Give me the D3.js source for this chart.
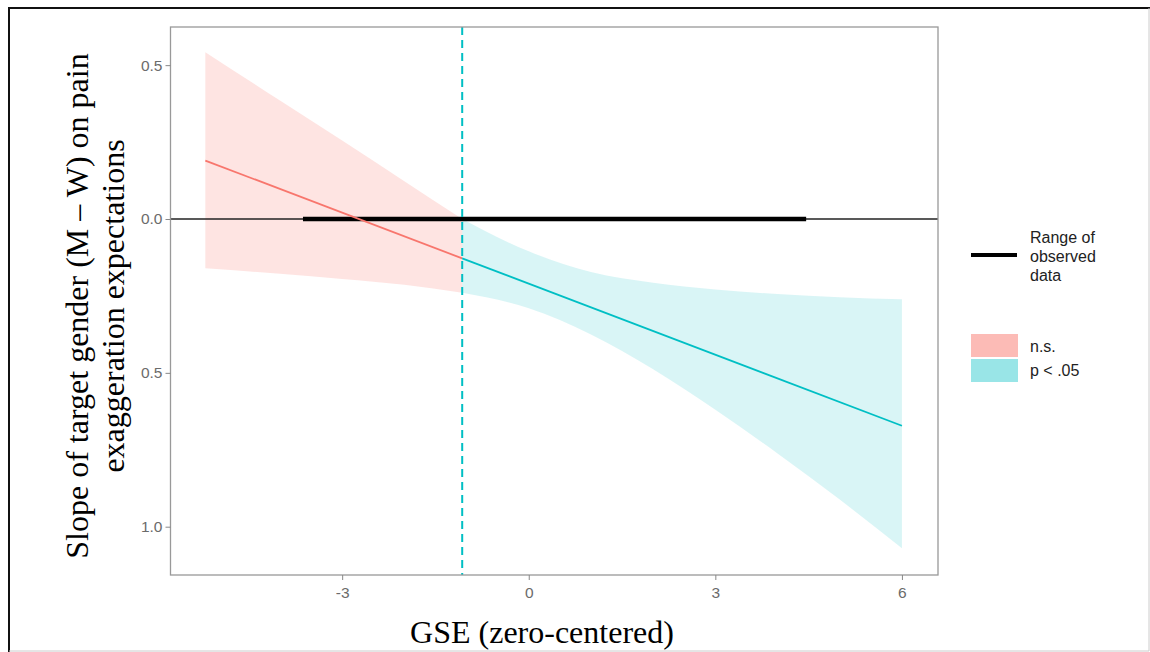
<!DOCTYPE html>
<html>
<head>
<meta charset="utf-8">
<script src="https://cdn.jsdelivr.net/npm/d3@7"></script>
<style>
  body { margin: 0; background: #fff; }
  svg { display: block; }
</style>
</head>
<body>
<script>
// values
const xTicks = [-3, 0, 3, 6];
const xTickLabels = ["-3", "0", "3", "6"];
const yTicks = [0.5, 0, -0.5, -1];
const yTickLabels = ["0.5", "0.0", "0.5", "1.0"];

const bandX = [-5.2, -4, -3, -2, -1.07, 0, 1, 2, 3, 4, 5, 6];
const bandUpper = [0.542, 0.385, 0.255, 0.123, 0.0, -0.105, -0.172, -0.207, -0.229, -0.244, -0.254, -0.261];
const bandLower = [-0.160, -0.178, -0.195, -0.214, -0.240, -0.290, -0.375, -0.488, -0.620, -0.762, -0.912, -1.070];

const nsLineX = [-5.2, -1.07];
const nsLineY = [0.19, -0.128];
const sigLineX = [-1.07, 6];
const sigLineY = [-0.128, -0.672];

const jnPoint = -1.07;
const observedRange = [-3.63, 4.46];

const legendRangeLabel = ["Range of", "observed", "data"];
const legendFillLabels = ["n.s.", "p < .05"];

const width = 1150, height = 652;
const panel = {left: 170.5, right: 938, top: 27, bottom: 575};
const red = "#F8766D", teal = "#00BFC4";

const svg = d3.select("body").append("svg")
    .attr("width", width)
    .attr("height", height);

const x = d3.scaleLinear()
    .domain([-5.76, 6.58])
    .range([panel.left, panel.right]);

const y = d3.scaleLinear()
    .domain([-1.157, 0.624])
    .range([panel.bottom, panel.top]);

const band = bandX.map((d, i) => ({x: d, lo: bandLower[i], hi: bandUpper[i]}));
const split = bandX.indexOf(jnPoint);

const area = d3.area()
    .curve(d3.curveMonotoneX)
    .x(d => x(d.x))
    .y0(d => y(d.lo))
    .y1(d => y(d.hi));

svg.append("path")
    .datum(band.slice(0, split + 1))
    .attr("fill", red)
    .attr("fill-opacity", 0.2)
    .attr("d", area);

svg.append("path")
    .datum(band.slice(split))
    .attr("fill", teal)
    .attr("fill-opacity", 0.15)
    .attr("d", area);

// zero line and range of observed data
svg.append("line")
    .attr("x1", panel.left).attr("x2", panel.right)
    .attr("y1", y(0)).attr("y2", y(0))
    .attr("stroke", "#222")
    .attr("stroke-width", 1.3);

svg.append("line")
    .attr("x1", x(observedRange[0])).attr("x2", x(observedRange[1]))
    .attr("y1", y(0)).attr("y2", y(0))
    .attr("stroke", "#000")
    .attr("stroke-width", 4.5);

const line = d3.line()
    .x(d => x(d[0]))
    .y(d => y(d[1]));

svg.append("path")
    .datum(nsLineX.map((d, i) => [d, nsLineY[i]]))
    .attr("fill", "none")
    .attr("stroke", red)
    .attr("stroke-width", 1.8)
    .attr("d", line);

svg.append("path")
    .datum(sigLineX.map((d, i) => [d, sigLineY[i]]))
    .attr("fill", "none")
    .attr("stroke", teal)
    .attr("stroke-width", 1.8)
    .attr("d", line);

svg.append("line")
    .attr("x1", x(jnPoint)).attr("x2", x(jnPoint))
    .attr("y1", panel.top).attr("y2", panel.bottom)
    .attr("stroke", teal)
    .attr("stroke-width", 2)
    .attr("stroke-dasharray", "8,5");

// panel border
svg.append("rect")
    .attr("x", panel.left).attr("y", panel.top)
    .attr("width", panel.right - panel.left)
    .attr("height", panel.bottom - panel.top)
    .attr("fill", "none")
    .attr("stroke", "#999")
    .attr("stroke-width", 1.3);

// axes
const xAxis = g => g
    .attr("transform", `translate(0,${panel.bottom})`)
    .call(d3.axisBottom(x).tickValues(xTicks).tickSize(5).tickPadding(7)
        .tickFormat((d, i) => xTickLabels[i]))
    .call(g => g.select(".domain").remove())
    .call(g => g.selectAll(".tick line").attr("stroke", "#888"))
    .call(g => g.selectAll(".tick text")
        .attr("fill", "#6b6b6b")
        .attr("font-family", "Liberation Sans, Arial, sans-serif")
        .attr("font-size", 15.5));

const yAxis = g => g
    .attr("transform", `translate(${panel.left},0)`)
    .call(d3.axisLeft(y).tickValues(yTicks).tickSize(5).tickPadding(3)
        .tickFormat((d, i) => yTickLabels[i]))
    .call(g => g.select(".domain").remove())
    .call(g => g.selectAll(".tick line").attr("stroke", "#888"))
    .call(g => g.selectAll(".tick text")
        .attr("fill", "#6b6b6b")
        .attr("font-family", "Liberation Sans, Arial, sans-serif")
        .attr("font-size", 15.5));

svg.append("g").call(xAxis);
svg.append("g").call(yAxis);

// axis titles
svg.append("text")
    .attr("x", 542).attr("y", 643)
    .attr("text-anchor", "middle")
    .attr("font-family", "Liberation Serif, Times New Roman, serif")
    .attr("font-size", 32)
    .text("GSE (zero-centered)");

const yTitle = svg.append("text")
    .attr("transform", "translate(0,306) rotate(-90)")
    .attr("text-anchor", "middle")
    .attr("font-family", "Liberation Serif, Times New Roman, serif")
    .attr("font-size", 32);
yTitle.append("tspan").attr("x", 0).attr("y", 88).text("Slope of target gender (M \u2013 W) on pain");
yTitle.append("tspan").attr("x", 0).attr("y", 124).text("exaggeration expectations");

// legend
const legend = svg.append("g")
    .attr("font-family", "Liberation Sans, Arial, sans-serif")
    .attr("font-size", 16)
    .attr("fill", "#222");

legend.append("line")
    .attr("x1", 971).attr("x2", 1017)
    .attr("y1", 255).attr("y2", 255)
    .attr("stroke", "#000")
    .attr("stroke-width", 4);

legend.selectAll("text.range")
    .data(legendRangeLabel)
    .join("text")
    .attr("class", "range")
    .attr("x", 1030)
    .attr("y", (d, i) => 243 + i * 19)
    .text(d => d);

const keyFill = [d3.interpolateRgb("#fff", red)(0.5), d3.interpolateRgb("#fff", teal)(0.4)];

legend.selectAll("rect")
    .data(legendFillLabels)
    .join("rect")
    .attr("x", 971)
    .attr("y", (d, i) => 334 + i * 25)
    .attr("width", 47)
    .attr("height", 23)
    .attr("fill", (d, i) => keyFill[i]);

legend.selectAll("text.fill")
    .data(legendFillLabels)
    .join("text")
    .attr("class", "fill")
    .attr("x", 1030)
    .attr("y", (d, i) => 352 + i * 24)
    .text(d => d);

// outer frame of the figure
svg.append("path")
    .attr("d", `M9,${height} V8 H${width}`)
    .attr("fill", "none")
    .attr("stroke", "#111")
    .attr("stroke-width", 2);

svg.append("path")
    .attr("d", `M1149,8 V651 H9`)
    .attr("fill", "none")
    .attr("stroke", "#ccc")
    .attr("stroke-width", 1);
</script>
</body>
</html>
